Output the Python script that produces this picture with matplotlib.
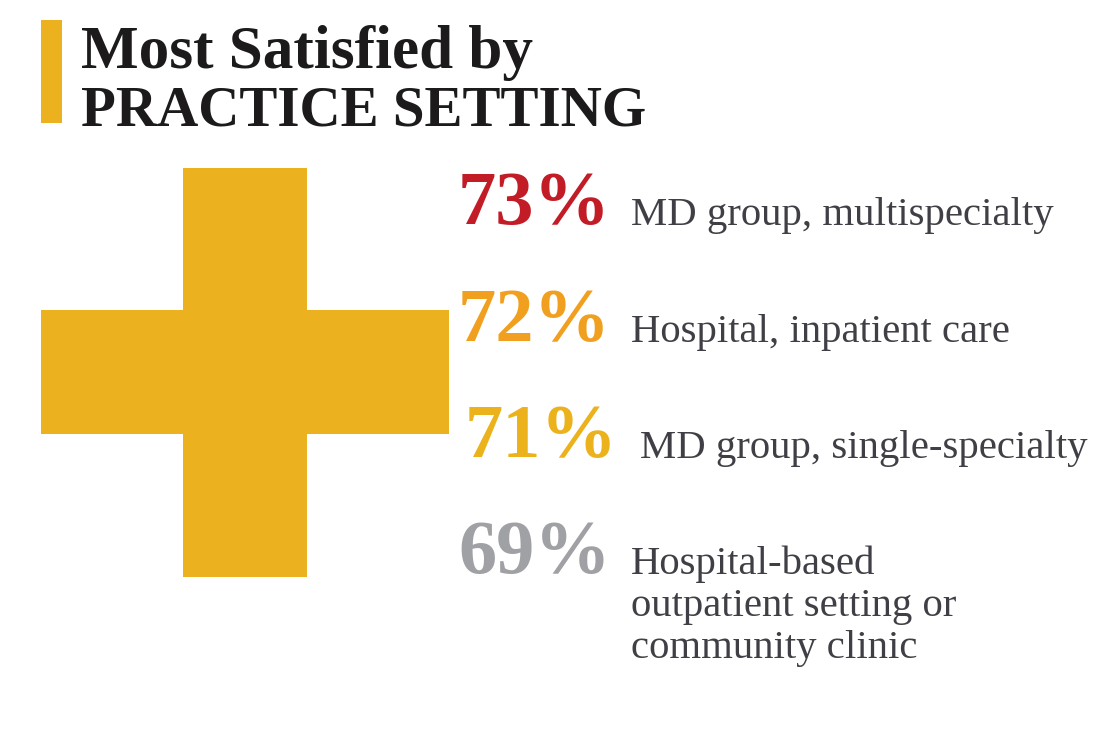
import matplotlib.pyplot as plt
from matplotlib.patches import Rectangle

# data
title_lines = ["Most Satisfied by", "PRACTICE SETTING"]
shares = [73, 72, 71, 69]
settings = [
    "MD group, multispecialty",
    "Hospital, inpatient care",
    "MD group, single-specialty",
    "Hospital-based\noutpatient setting or\ncommunity clinic",
]
pct_colors = ["#c21d26", "#f0a01e", "#ecb21c", "#a0a1a5"]

gold = "#ecb11e"
text_dark = "#1c1a1b"
label_gray = "#3f3f45"

plt.rcParams["font.family"] = ["Liberation Serif", "DejaVu Serif"]

fig = plt.figure(figsize=(11, 7.39), dpi=100)
ax = fig.add_axes([0, 0, 1, 1])
ax.set_xlim(0, 1100)
ax.set_ylim(739, 0)
ax.axis("off")

# title with the side bar
ax.add_patch(Rectangle((41, 20), 21, 103, color=gold, lw=0))
ax.text(81, 68, title_lines[0], fontsize=44, fontweight="bold", color=text_dark, va="baseline", ha="left")
ax.text(81, 125, title_lines[1], fontsize=41, fontweight="bold", color=text_dark, va="baseline", ha="left")

# medical cross
ax.add_patch(Rectangle((183, 168), 124, 409, color=gold, lw=0))
ax.add_patch(Rectangle((41, 310), 408, 124, color=gold, lw=0))

# rows
row_base = [224, 341, 457, 573]
pct_x = [458, 458, 465, 458]
lab_x = [631, 631, 640, 631]
line_gap = 42
for v, lab, c, y, px, lx in zip(shares, settings, pct_colors, row_base, pct_x, lab_x):
    ax.text(px, y, f"{v}%", fontsize=55, fontweight="bold", color=c, va="baseline", ha="left")
    for i, line in enumerate(lab.split("\n")):
        ax.text(lx, y + 1 + i * line_gap, line, fontsize=29.3, color=label_gray,
                va="baseline", ha="left")

fig.savefig("out.png", dpi=100)
